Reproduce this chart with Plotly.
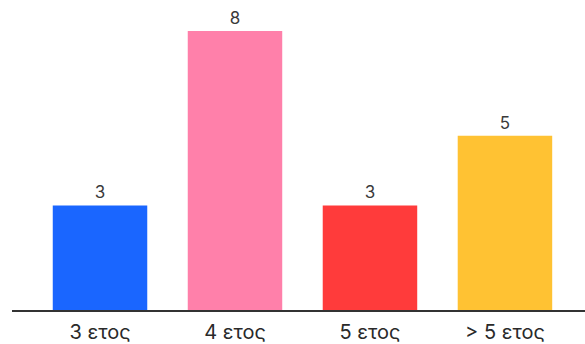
import plotly.graph_objects as go

categories = ["3 ετος", "4 ετος", "5 ετος", "> 5 ετος"]
values = [3, 8, 3, 5]
colors = ["#1a66ff", "#ff80aa", "#ff3b3b", "#ffc233"]

fig = go.Figure(go.Bar(
    x=categories, y=values,
    marker=dict(color=colors, line=dict(width=0)),
    text=[str(v) for v in values], textposition="outside",
    textfont=dict(family="Inter", size=17, color="#3a3a3a"),
    cliponaxis=False, width=0.70,
))

fig.update_layout(
    width=585, height=344,
    margin=dict(l=12, r=0, t=0, b=32),
    plot_bgcolor="white", paper_bgcolor="white",
    showlegend=False,
    xaxis=dict(range=[-0.652, 3.593], showgrid=False, showline=True,
               linecolor="#333333", linewidth=2, ticks="",
               ticklabelstandoff=3,
               tickfont=dict(family="Inter", size=20, color="#2a2a2a")),
    yaxis=dict(range=[0, 8.89], visible=False, showgrid=False, zeroline=False),
)

fig.write_html("out.html")
